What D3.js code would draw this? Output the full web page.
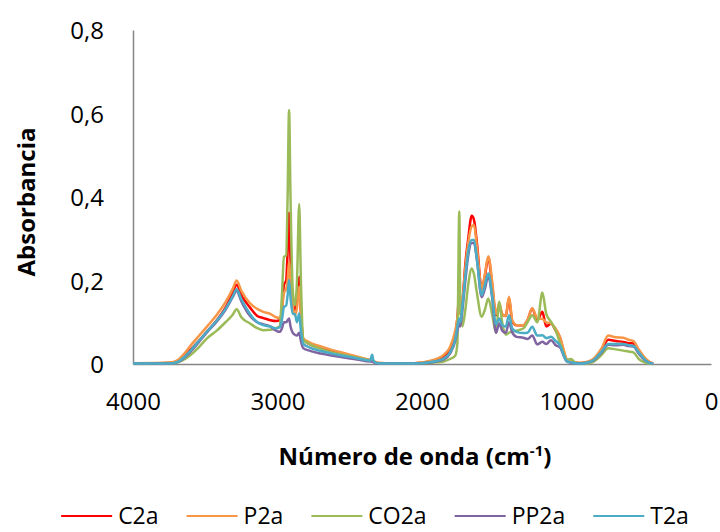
<!DOCTYPE html>
<html>
<head>
<meta charset="utf-8">
<script src="https://cdn.jsdelivr.net/npm/d3@7"></script>
<style>
  html, body { margin: 0; padding: 0; background: #fff; }
  svg { display: block; }
  text { font-family: "Open Sans", "Liberation Sans", sans-serif; fill: #000; }
</style>
</head>
<body>
<svg id="chart" width="720" height="532"></svg>
<script>
// ---- data ----
const wavenumbers = [4000, 3800, 3720, 3680, 3640, 3600, 3550, 3490, 3420, 3360, 3310, 3283, 3250, 3190, 3140, 3098, 3050, 3010, 2985, 2970, 2955, 2940, 2930, 2920, 2910, 2895, 2880, 2865, 2850, 2838, 2822, 2780, 2700, 2637, 2550, 2450, 2360, 2345, 2335, 2300, 2200, 2100, 2000, 1900, 1850, 1806, 1770, 1755, 1742, 1735, 1720, 1700, 1680, 1656, 1640, 1620, 1587, 1565, 1541, 1515, 1488, 1465, 1445, 1420, 1398, 1375, 1345, 1299, 1270, 1237, 1202, 1167, 1140, 1107, 1075, 1045, 1020, 999, 970, 940, 907, 860, 815, 757, 711, 660, 607, 570, 537, 500, 450, 420, 400];

const C2a = [0.002, 0.002, 0.003, 0.008, 0.02, 0.035, 0.053, 0.077, 0.105, 0.135, 0.17, 0.19, 0.165, 0.135, 0.115, 0.11, 0.105, 0.103, 0.105, 0.13, 0.19, 0.2, 0.27, 0.362, 0.25, 0.16, 0.13, 0.15, 0.209, 0.12, 0.06, 0.048, 0.038, 0.031, 0.024, 0.016, 0.009, 0.008, 0.006, 0.002, 0.001, 0.001, 0.003, 0.01, 0.018, 0.035, 0.07, 0.11, 0.17, 0.12, 0.15, 0.24, 0.3, 0.355, 0.345, 0.29, 0.18, 0.21, 0.255, 0.19, 0.117, 0.14, 0.118, 0.115, 0.158, 0.1, 0.093, 0.093, 0.105, 0.133, 0.105, 0.125, 0.09, 0.097, 0.08, 0.063, 0.03, 0.01, 0.006, 0.003, 0.002, 0.004, 0.01, 0.033, 0.058, 0.055, 0.053, 0.05, 0.049, 0.03, 0.01, 0.003, 0.001];

const P2a = [0.002, 0.003, 0.005, 0.012, 0.027, 0.045, 0.065, 0.089, 0.118, 0.148, 0.18, 0.2, 0.175, 0.145, 0.132, 0.125, 0.12, 0.112, 0.11, 0.125, 0.17, 0.18, 0.2, 0.245, 0.2, 0.14, 0.117, 0.135, 0.185, 0.12, 0.062, 0.052, 0.042, 0.035, 0.027, 0.018, 0.01, 0.009, 0.007, 0.003, 0.001, 0.001, 0.004, 0.012, 0.022, 0.041, 0.08, 0.11, 0.14, 0.12, 0.15, 0.23, 0.29, 0.33, 0.333, 0.28, 0.18, 0.215, 0.258, 0.2, 0.12, 0.145, 0.12, 0.115, 0.161, 0.105, 0.093, 0.093, 0.105, 0.133, 0.11, 0.108, 0.1, 0.097, 0.085, 0.065, 0.035, 0.012, 0.007, 0.004, 0.003, 0.005, 0.012, 0.038, 0.068, 0.064, 0.063, 0.058, 0.055, 0.035, 0.012, 0.004, 0.001];

const CO2a = [0.001, 0.001, 0.002, 0.005, 0.012, 0.022, 0.038, 0.061, 0.08, 0.1, 0.118, 0.131, 0.112, 0.097, 0.086, 0.081, 0.082, 0.086, 0.09, 0.16, 0.257, 0.26, 0.4, 0.608, 0.4, 0.18, 0.14, 0.2, 0.383, 0.2, 0.058, 0.048, 0.036, 0.029, 0.022, 0.015, 0.009, 0.008, 0.006, 0.002, 0.001, 0.001, 0.002, 0.004, 0.006, 0.012, 0.02, 0.05, 0.365, 0.14, 0.09, 0.13, 0.19, 0.229, 0.215, 0.17, 0.113, 0.13, 0.157, 0.12, 0.075, 0.149, 0.1, 0.07, 0.075, 0.078, 0.08, 0.085, 0.1, 0.117, 0.1, 0.171, 0.12, 0.101, 0.08, 0.05, 0.025, 0.01, 0.012, 0.004, 0.001, 0.001, 0.005, 0.022, 0.038, 0.035, 0.032, 0.03, 0.028, 0.012, 0.003, 0.001, 0.001];

const PP2a = [0.001, 0.001, 0.002, 0.006, 0.016, 0.03, 0.05, 0.075, 0.102, 0.13, 0.16, 0.175, 0.15, 0.115, 0.1, 0.095, 0.09, 0.08, 0.077, 0.085, 0.1, 0.1, 0.105, 0.109, 0.09, 0.075, 0.07, 0.068, 0.075, 0.055, 0.038, 0.032, 0.025, 0.021, 0.016, 0.011, 0.006, 0.006, 0.004, 0.001, 0.001, 0.001, 0.002, 0.006, 0.011, 0.025, 0.055, 0.08, 0.095, 0.09, 0.13, 0.2, 0.26, 0.29, 0.29, 0.25, 0.16, 0.18, 0.21, 0.16, 0.075, 0.097, 0.08, 0.075, 0.1, 0.075, 0.065, 0.063, 0.06, 0.068, 0.047, 0.053, 0.048, 0.057, 0.045, 0.04, 0.02, 0.006, 0.003, 0.002, 0.001, 0.003, 0.008, 0.028, 0.046, 0.045, 0.046, 0.043, 0.042, 0.025, 0.007, 0.002, 0.001];

const T2a = [0.001, 0.001, 0.002, 0.007, 0.018, 0.033, 0.053, 0.077, 0.104, 0.132, 0.162, 0.179, 0.155, 0.12, 0.1, 0.093, 0.09, 0.085, 0.088, 0.105, 0.137, 0.14, 0.165, 0.201, 0.16, 0.12, 0.12, 0.1, 0.121, 0.08, 0.048, 0.04, 0.031, 0.026, 0.02, 0.014, 0.008, 0.022, 0.007, 0.001, 0.001, 0.001, 0.002, 0.007, 0.013, 0.028, 0.06, 0.09, 0.109, 0.1, 0.14, 0.21, 0.27, 0.297, 0.297, 0.25, 0.165, 0.19, 0.217, 0.165, 0.095, 0.109, 0.093, 0.09, 0.117, 0.085, 0.077, 0.074, 0.075, 0.089, 0.068, 0.069, 0.062, 0.065, 0.055, 0.045, 0.022, 0.007, 0.004, 0.002, 0.001, 0.003, 0.009, 0.03, 0.048, 0.048, 0.048, 0.045, 0.043, 0.028, 0.008, 0.002, 0.001];

const seriesNames = ["C2a", "P2a", "CO2a", "PP2a", "T2a"];
const seriesValues = [C2a, P2a, CO2a, PP2a, T2a];
const seriesColors = ["#FF0000", "#F79646", "#9BBB59", "#8064A2", "#4BACC6"];

const xTicks = [4000, 3000, 2000, 1000, 0];
const yTicks = [0, 0.2, 0.4, 0.6, 0.8];
const xTitle = "Número de onda (cm";
const xTitleSup = "-1";
const yTitle = "Absorbancia";

// ---- layout ----
const svg = d3.select("#chart");
const plotLeft = 133, plotRight = 711, plotTop = 30, plotBottom = 364;

const x = d3.scaleLinear().domain([4000, 0]).range([plotLeft, plotRight]);
const y = d3.scaleLinear().domain([0, 0.8]).range([plotBottom, plotTop]);

const axisColor = "#868686";

// x axis
const xAxis = svg.append("g").attr("transform", `translate(0,${plotBottom})`)
  .call(d3.axisBottom(x).tickValues(xTicks).tickSize(0).tickPadding(0).tickFormat(d3.format("d")));
xAxis.select(".domain").attr("stroke", axisColor).attr("stroke-width", 1.5);
xAxis.selectAll(".tick text").attr("font-size", 24).attr("font-family", "Open Sans")
  .attr("fill", "#000").attr("y", 46).attr("dy", 0);

// y axis
const yAxis = svg.append("g").attr("transform", `translate(${plotLeft},0)`)
  .call(d3.axisLeft(y).tickValues(yTicks).tickSize(0).tickPadding(29)
    .tickFormat(d => d === 0 ? "0" : d3.format(".1f")(d).replace(".", ",")));
yAxis.select(".domain").attr("stroke", axisColor).attr("stroke-width", 1.5);
yAxis.selectAll(".tick text").attr("font-size", 24).attr("font-family", "Open Sans")
  .attr("fill", "#000").attr("dy", "0.36em");

// lines
const line = d3.line()
  .x((d, i) => x(wavenumbers[i]))
  .y(d => y(d))
  .curve(d3.curveMonotoneX);

svg.append("g").selectAll("path")
  .data(seriesValues)
  .join("path")
  .attr("d", d => line(d))
  .attr("fill", "none")
  .attr("stroke", (d, i) => seriesColors[i])
  .attr("stroke-width", 2.5)
  .attr("stroke-linejoin", "round");

// y title
svg.append("text")
  .attr("transform", "translate(35,202) rotate(-90)")
  .attr("text-anchor", "middle")
  .attr("font-size", 24).attr("font-weight", "bold")
  .text(yTitle);

// x title
const xt = svg.append("text")
  .attr("x", 415).attr("y", 465)
  .attr("text-anchor", "middle")
  .attr("font-size", 24).attr("font-weight", "bold");
xt.append("tspan").text(xTitle);
xt.append("tspan").attr("font-size", 15).attr("dy", -9).text(xTitleSup);
xt.append("tspan").attr("dy", 9).text(")");

// legend
const legend = svg.append("g");
const lineLen = 51, gapText = 6, gapItem = 28, legY = 516;
let cx = 0;
seriesNames.forEach((name, i) => {
  const g = legend.append("g").attr("transform", `translate(${cx},0)`);
  g.append("line").attr("x1", 0).attr("x2", lineLen).attr("y1", legY).attr("y2", legY)
    .attr("stroke", seriesColors[i]).attr("stroke-width", 2);
  const t = g.append("text").attr("x", lineLen + gapText).attr("y", legY).attr("dy", "0.34em")
    .attr("font-size", 23).text(name);
  const w = t.node().getComputedTextLength();
  cx += lineLen + gapText + w + gapItem;
});
const totalW = cx - gapItem;
legend.attr("transform", `translate(${375 - totalW / 2},0)`);
</script>
</body>
</html>
